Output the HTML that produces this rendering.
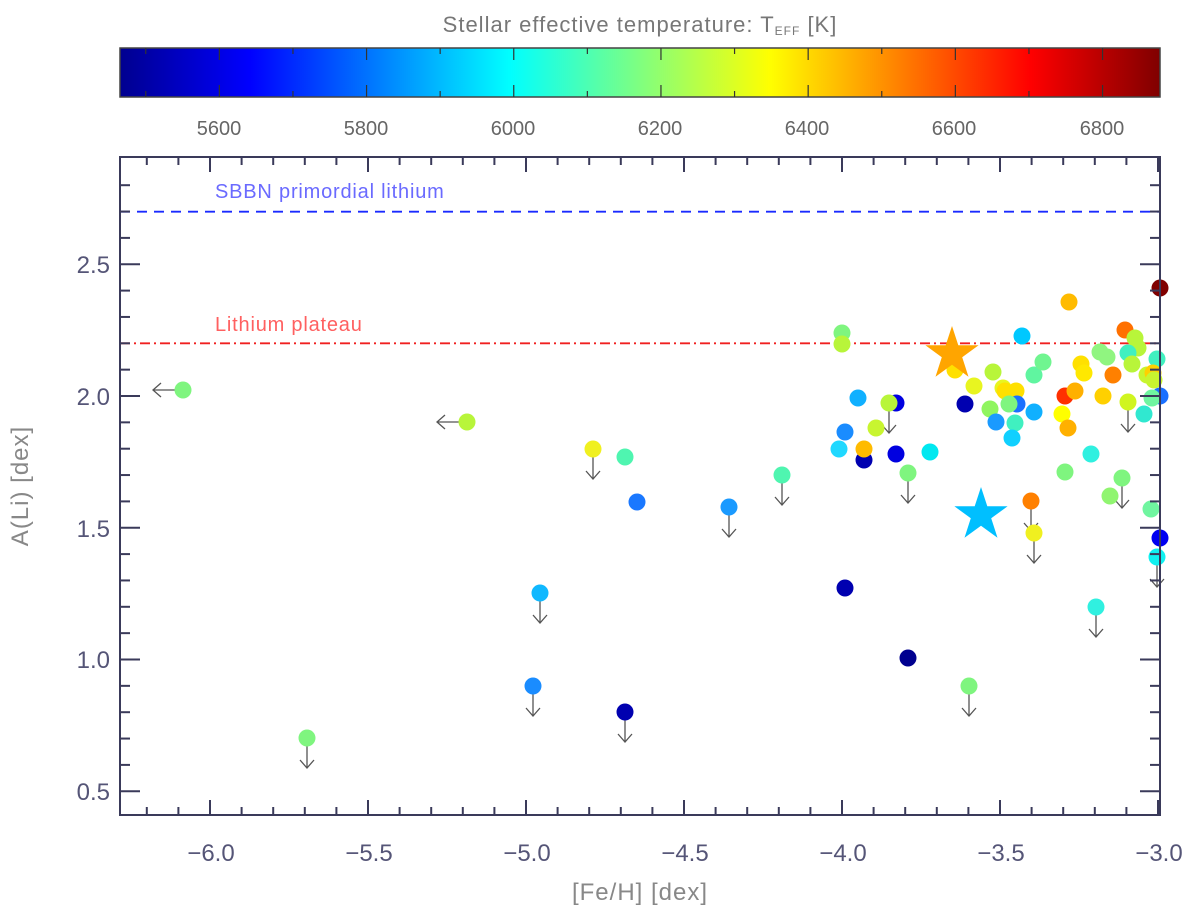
<!DOCTYPE html>
<html><head><meta charset="utf-8"><style>
html,body{margin:0;padding:0;background:#fff;}
svg{display:block;font-family:"Liberation Sans","DejaVu Sans",sans-serif;}
</style></head><body>
<svg id="s" width="1200" height="917" viewBox="0 0 1200 917" xmlns="http://www.w3.org/2000/svg">
<defs>
<linearGradient id="jet" x1="0" x2="1" y1="0" y2="0">
<stop offset="0" stop-color="#00008f"/>
<stop offset="0.125" stop-color="#0000ff"/>
<stop offset="0.375" stop-color="#00ffff"/>
<stop offset="0.625" stop-color="#ffff00"/>
<stop offset="0.875" stop-color="#ff0000"/>
<stop offset="1" stop-color="#800000"/>
</linearGradient>
</defs>
<text x="640" y="32" font-size="22" fill="#777" text-anchor="middle" letter-spacing="1">Stellar effective temperature: T<tspan font-size="12" dy="3">EFF</tspan><tspan dy="-3"> [K]</tspan></text>
<rect x="120" y="48" width="1040" height="49" fill="url(#jet)" stroke="#444" stroke-width="1.5"/>
<g id="cbt" stroke="#333" stroke-width="1.2"></g>
<g font-size="20" fill="#666" text-anchor="middle">
<text x="219" y="135">5600</text><text x="366" y="135">5800</text><text x="513" y="135">6000</text><text x="660" y="135">6200</text><text x="807" y="135">6400</text><text x="954" y="135">6600</text><text x="1102" y="135">6800</text>
</g>
<line x1="120" x2="1160" y1="211.7" y2="211.7" stroke="#1a2aff" stroke-width="1.8" stroke-dasharray="10,7"/>
<text x="215" y="198" font-size="20" fill="#6a6aff" letter-spacing="0.8">SBBN primordial lithium</text>
<line x1="120" x2="1160" y1="343.3" y2="343.3" stroke="#f02020" stroke-width="1.8" stroke-dasharray="10,4,2,4"/>
<text x="215" y="331" font-size="20" fill="#ff6060" letter-spacing="0.8">Lithium plateau</text>
<g id="arr" stroke="#555" stroke-width="1.3" fill="none"></g>
<g id="pts"></g>
<polygon id="st1" fill="#ffa500"/>
<polygon id="st2" fill="#00bfff"/>
<rect x="120" y="157" width="1040" height="658" fill="none" stroke="#3a3a5a" stroke-width="2"/>
<g id="ax" stroke="#3a3a5a" stroke-width="2"></g>
<g font-size="24" fill="#555577" text-anchor="middle">
<text x="211" y="861">−6.0</text><text x="369" y="861">−5.5</text><text x="527" y="861">−5.0</text><text x="685" y="861">−4.5</text><text x="843" y="861">−4.0</text><text x="1001" y="861">−3.5</text><text x="1159" y="861">−3.0</text>
</g>
<g font-size="24" fill="#555577" text-anchor="end">
<text x="110" y="800">0.5</text><text x="110" y="668">1.0</text><text x="110" y="537">1.5</text><text x="110" y="405">2.0</text><text x="110" y="273">2.5</text>
</g>
<text x="640" y="900" font-size="24" fill="#888" text-anchor="middle" letter-spacing="1">[Fe/H] [dex]</text>
<text transform="translate(28,486) rotate(-90)" font-size="24" fill="#888" text-anchor="middle" letter-spacing="1">A(Li) [dex]</text>
</svg>
<script>
var NS="http://www.w3.org/2000/svg";
function el(p,t,a){var e=document.createElementNS(NS,t);for(var k in a)e.setAttribute(k,a[k]);document.getElementById(p).appendChild(e);}
for(var T=5500;T<=6850;T+=100){var x=120+(T-5465)*0.736;var L=(T%200==0)?12:6;
el("cbt","line",{x1:x,x2:x,y1:48,y2:48+L});el("cbt","line",{x1:x,x2:x,y1:97,y2:97-L});}
for(var i=-62;i<=-30;i++){var f=i/10;var x=1158+(f+3)*316;var L=(i%5==0)?15:8;
el("ax","line",{x1:x,x2:x,y1:815,y2:815-L});el("ax","line",{x1:x,x2:x,y1:157,y2:157+L});}
for(var i=5;i<=28;i++){var a=i/10;var y=396-(a-2)*263.5;var L=(i%5==0)?20:10;
el("ax","line",{x1:120,x2:120+L,y1:y,y2:y});el("ax","line",{x1:1160,x2:1160-L,y1:y,y2:y});}
function down(x,y){el("arr","line",{x1:x,x2:x,y1:y+8,y2:y+30});el("arr","polyline",{points:(x-7)+","+(y+22)+" "+x+","+(y+30)+" "+(x+7)+","+(y+22)});}
function left(x,y){el("arr","line",{x1:x-8,x2:x-30,y1:y,y2:y});el("arr","polyline",{points:(x-22)+","+(y-7)+" "+(x-30)+","+y+" "+(x-22)+","+(y+7)});}
var P=[
[183,390,"#7ff57f","L"],[467,422,"#b8f53a","L"],[307,738,"#7ff57f","D"],[593,449,"#f0f020","D"],[625,457,"#4ff5b0"],
[637,502,"#1a78ff"],[540,593,"#10b8ff","D"],[533,686,"#1a8cff","D"],[625,712,"#0000b0","D"],[729,507,"#1a9aff","D"],
[782,475,"#4ff5b0","D"],[839,449,"#20d8ff"],[845,432,"#1a8cff"],[842,333,"#7ff57f"],[842,344,"#b8f53a"],[845,588,"#0000b0"],
[858,398,"#10b0ff"],[864,460,"#0000b0"],[864,449,"#ffbb00"],[876,428,"#c8f530"],[896,403,"#0000e0"],[889,403,"#b8f53a","D"],
[896,454,"#0000e0"],[930,452,"#00e8f0"],[908,473,"#7ff57f","D"],[908,658,"#00008f"],[969,686,"#7ff57f","D"],
[1160,288,"#800000"],[1069,302,"#ffbb00"],[1022,336,"#00c8ff"],[955,370,"#ffe000"],[974,386,"#e8f520"],[993,372,"#b8f53a"],
[1003,388,"#e8f520"],[1005,391,"#ffe000"],[1016,391,"#ffe000"],[965,404,"#0000b0"],[990,409,"#90f560"],[1017,404,"#1a70ff"],
[1009,404,"#7ff57f"],[996,422,"#1a9aff"],[1015,423,"#40f0c0"],[1012,438,"#10d0ff"],[1034,412,"#10b0ff"],[1034,375,"#60f5a0"],[1043,362,"#70f590"],
[1065,396,"#ff3000"],[1075,391,"#ffb000"],[1062,414,"#ffff00"],[1068,428,"#ffb000"],[1081,364,"#ffe000"],[1084,373,"#ffe800"],
[1113,375,"#ff8000"],[1103,396,"#ffd000"],[1100,352,"#90f580"],[1107,357,"#90f580"],[1125,330,"#ff7000"],[1135,338,"#b8f53a"],[1138,348,"#b8f53a"],
[1128,353,"#40f0c0"],[1132,364,"#b8f53a"],[1157,359,"#40f0c0"],[1147,375,"#c8f530"],[1153,373,"#ffd000"],[1154,380,"#c8f530"],
[1160,396,"#1a70ff"],[1152,398,"#70f5a0"],[1144,414,"#30e8d0"],[1128,402,"#d0f520","D"],[1065,472,"#7ff57f"],[1091,454,"#30f0e0"],
[1122,478,"#7ff57f","D"],[1110,496,"#90f570"],[1151,509,"#70f5a0"],[1031,501,"#ff8000","D"],[1034,533,"#f0f020","D"],
[1160,538,"#0000f0"],[1157,557,"#10f0f0","D"],[1096,607,"#30f0e0","D"]];
P.forEach(function(p){if(p[3]=="D")down(p[0],p[1]);if(p[3]=="L")left(p[0],p[1]);});
P.forEach(function(p){el("pts","circle",{cx:p[0],cy:p[1],r:8.5,fill:p[2]});});
function star(id,cx,cy,R){var r=R*0.382,s="";for(var i=0;i<10;i++){var a=-Math.PI/2+i*Math.PI/5,q=i%2?r:R;s+=(cx+q*Math.cos(a)).toFixed(1)+","+(cy+q*Math.sin(a)).toFixed(1)+" ";}document.getElementById(id).setAttribute("points",s);}
star("st1",952,354,28);star("st2",981,515,28);
</script>
</body></html>
